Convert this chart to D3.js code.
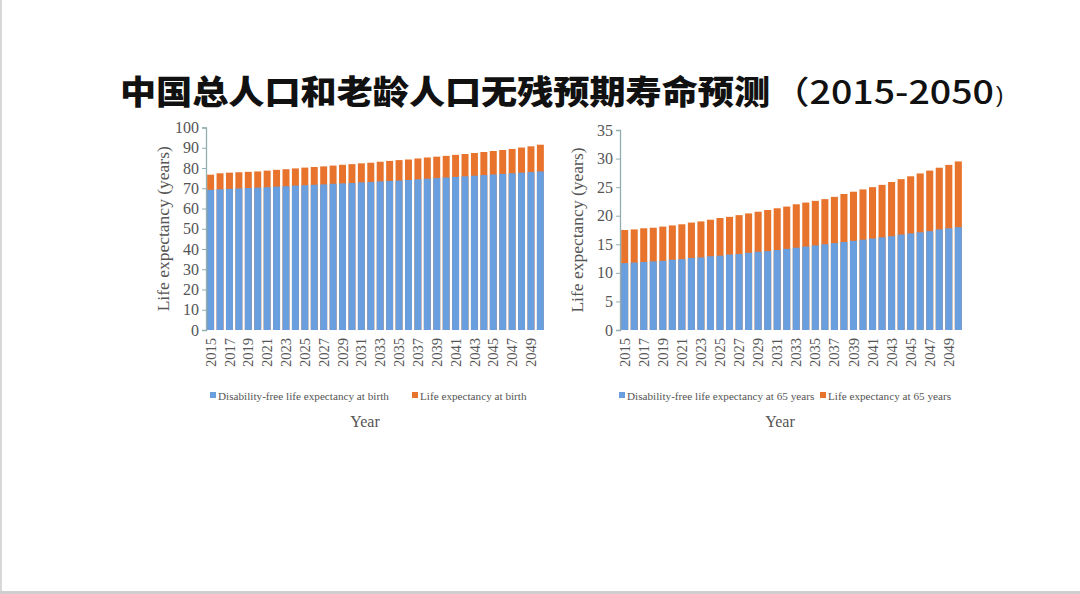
<!DOCTYPE html>
<html><head><meta charset="utf-8">
<script src="https://cdn.jsdelivr.net/npm/d3@7"></script>
<style>
html,body{margin:0;padding:0;background:#fff;}
svg{display:block;}
</style></head>
<body>
<svg id="c" width="1080" height="594"></svg>
<script>
const years = d3.range(2015, 2051);
const birthDisabilityFree = [69.2,69.5,69.7,69.9,70.1,70.3,70.5,70.8,71.0,71.3,71.5,71.7,71.9,72.2,72.4,72.6,72.9,73.1,73.4,73.6,73.8,74.1,74.4,74.7,75.0,75.3,75.6,75.9,76.2,76.5,76.8,77.1,77.4,77.7,78.0,78.3];
const birthLifeExp = [76.7,77.4,77.7,77.9,78.1,78.3,78.7,79.1,79.4,79.8,80.2,80.5,80.8,81.2,81.6,81.9,82.3,82.6,83.1,83.5,83.9,84.2,84.7,85.2,85.6,86.0,86.5,86.9,87.4,87.9,88.4,88.9,89.4,90.1,90.7,91.5];
const old65DisabilityFree = [11.7,11.8,11.9,12.0,12.1,12.3,12.4,12.6,12.7,12.9,13.0,13.2,13.3,13.5,13.7,13.8,14.0,14.2,14.4,14.6,14.8,15.0,15.2,15.4,15.6,15.8,16.0,16.2,16.4,16.7,16.9,17.1,17.3,17.6,17.8,18.0];
const old65LifeExp = [17.5,17.6,17.8,17.9,18.1,18.3,18.5,18.8,19.0,19.3,19.6,19.8,20.1,20.4,20.7,21.0,21.3,21.6,22.0,22.3,22.6,22.9,23.3,23.8,24.2,24.6,25.0,25.4,25.9,26.4,26.9,27.4,27.9,28.4,28.9,29.5];
const leftTicks = [0,10,20,30,40,50,60,70,80,90,100];
const rightTicks = [0,5,10,15,20,25,30,35];
const xTickYears = years.filter(y => (y - 2015) % 2 === 0 && y < 2050);
const titleMain = "中国总人口和老龄人口无残预期寿命预测";
const titleRange = "（2015-2050";
const titleClose = ")";
const leftLegend = ["Disability-free life expectancy at birth", "Life expectancy at birth"];
const rightLegend = ["Disability-free life expectancy at 65 years", "Life expectancy at 65 years"];
const yTitle = "Life expectancy (years)";
const xTitle = "Year";

const BLUE = "#6a9fdf", ORANGE = "#e8732c", AXIS = "#93aeb0", TXT = "#555";
const svg = d3.select("#c");

// frame lines
svg.append("line").attr("x1",1).attr("x2",1).attr("y1",0).attr("y2",594).attr("stroke","#d8d8d8").attr("stroke-width",2);
svg.append("line").attr("x1",0).attr("x2",1080).attr("y1",592.5).attr("y2",592.5).attr("stroke","#cfcfcf").attr("stroke-width",3);

const title = svg.append("g");
title.append("text").attr("x",120).attr("y",104)
  .attr("font-family","'Noto Sans CJK SC'").attr("font-weight",900).attr("font-size",33)
  .attr("fill","#111").attr("textLength",650).attr("lengthAdjust","spacingAndGlyphs")
  .text(titleMain);
title.append("text").attr("x",772).attr("y",104)
  .attr("font-family","'Noto Sans CJK SC'").attr("font-weight",500).attr("font-size",32)
  .attr("fill","#111").attr("textLength",222).attr("lengthAdjust","spacingAndGlyphs")
  .text(titleRange);
title.append("text").attr("x",996).attr("y",102)
  .attr("font-family","'Liberation Sans'").attr("font-size",22)
  .attr("fill","#111").text(titleClose);

function chart(cfg){
  const g = svg.append("g");
  const x = d3.scaleBand().domain(years).range([cfg.x0, cfg.x1]).paddingInner(0.26).paddingOuter(0.12);
  const y = d3.scaleLinear().domain([0, cfg.max]).range([cfg.y0, cfg.y1]);
  g.selectAll("rect.o").data(years).join("rect").attr("class","o")
    .attr("x", d => x(d)).attr("width", x.bandwidth())
    .attr("y", (d,i) => y(cfg.total[i])).attr("height", (d,i) => y(0) - y(cfg.total[i]))
    .attr("fill", ORANGE);
  g.selectAll("rect.b").data(years).join("rect").attr("class","b")
    .attr("x", d => x(d)).attr("width", x.bandwidth())
    .attr("y", (d,i) => y(cfg.free[i])).attr("height", (d,i) => y(0) - y(cfg.free[i]))
    .attr("fill", BLUE);
  const ya = g.append("g").attr("transform", `translate(${cfg.x0},0)`)
    .call(d3.axisLeft(y).tickValues(cfg.ticks).tickSize(4).tickPadding(3));
  ya.select(".domain").attr("stroke", AXIS).attr("stroke-width",1.3);
  ya.selectAll(".tick line").attr("stroke", AXIS);
  ya.selectAll("text").attr("font-family","'Liberation Serif'").attr("font-size",16).attr("fill",TXT);
  const xa = g.append("g").attr("transform", `translate(0,${cfg.y0})`)
    .call(d3.axisBottom(x).tickValues(xTickYears).tickSize(0).tickPadding(0));
  xa.select(".domain").remove();
  xa.selectAll("text").attr("font-family","'Liberation Serif'").attr("font-size",14.5).attr("fill",TXT)
    .attr("transform","rotate(-90)").attr("text-anchor","end")
    .attr("x",-8).attr("y",0).attr("dy","0.35em");
  g.append("text").attr("transform",`translate(${cfg.x0-37},${(cfg.y0+cfg.y1)/2}) rotate(-90)`)
    .attr("text-anchor","middle").attr("font-family","'Liberation Serif'").attr("font-size",17.5).attr("fill",TXT)
    .text(yTitle);
  const lg = g.append("g");
  cfg.legend.forEach((t,i) => {
    lg.append("rect").attr("x", cfg.legX[i]).attr("y", 392).attr("width",6).attr("height",6)
      .attr("fill", i===0 ? BLUE : ORANGE);
    lg.append("text").attr("x", cfg.legX[i]+8).attr("y", 399.5)
      .attr("font-family","'Liberation Serif'").attr("font-size",11.2).attr("fill",TXT).text(t);
  });
  g.append("text").attr("x", cfg.yearX).attr("y", 427).attr("text-anchor","middle")
    .attr("font-family","'Liberation Serif'").attr("font-size",16).attr("fill",TXT).text(xTitle);
}

chart({x0:206, x1:545, y0:330, y1:127.5, max:100, ticks:leftTicks, total:birthLifeExp, free:birthDisabilityFree,
  legend:leftLegend, legX:[210, 412], yearX:365});
chart({x0:620, x1:963, y0:330, y1:130, max:35, ticks:rightTicks, total:old65LifeExp, free:old65DisabilityFree,
  legend:rightLegend, legX:[619, 820], yearX:780});
</script>
</body></html>
